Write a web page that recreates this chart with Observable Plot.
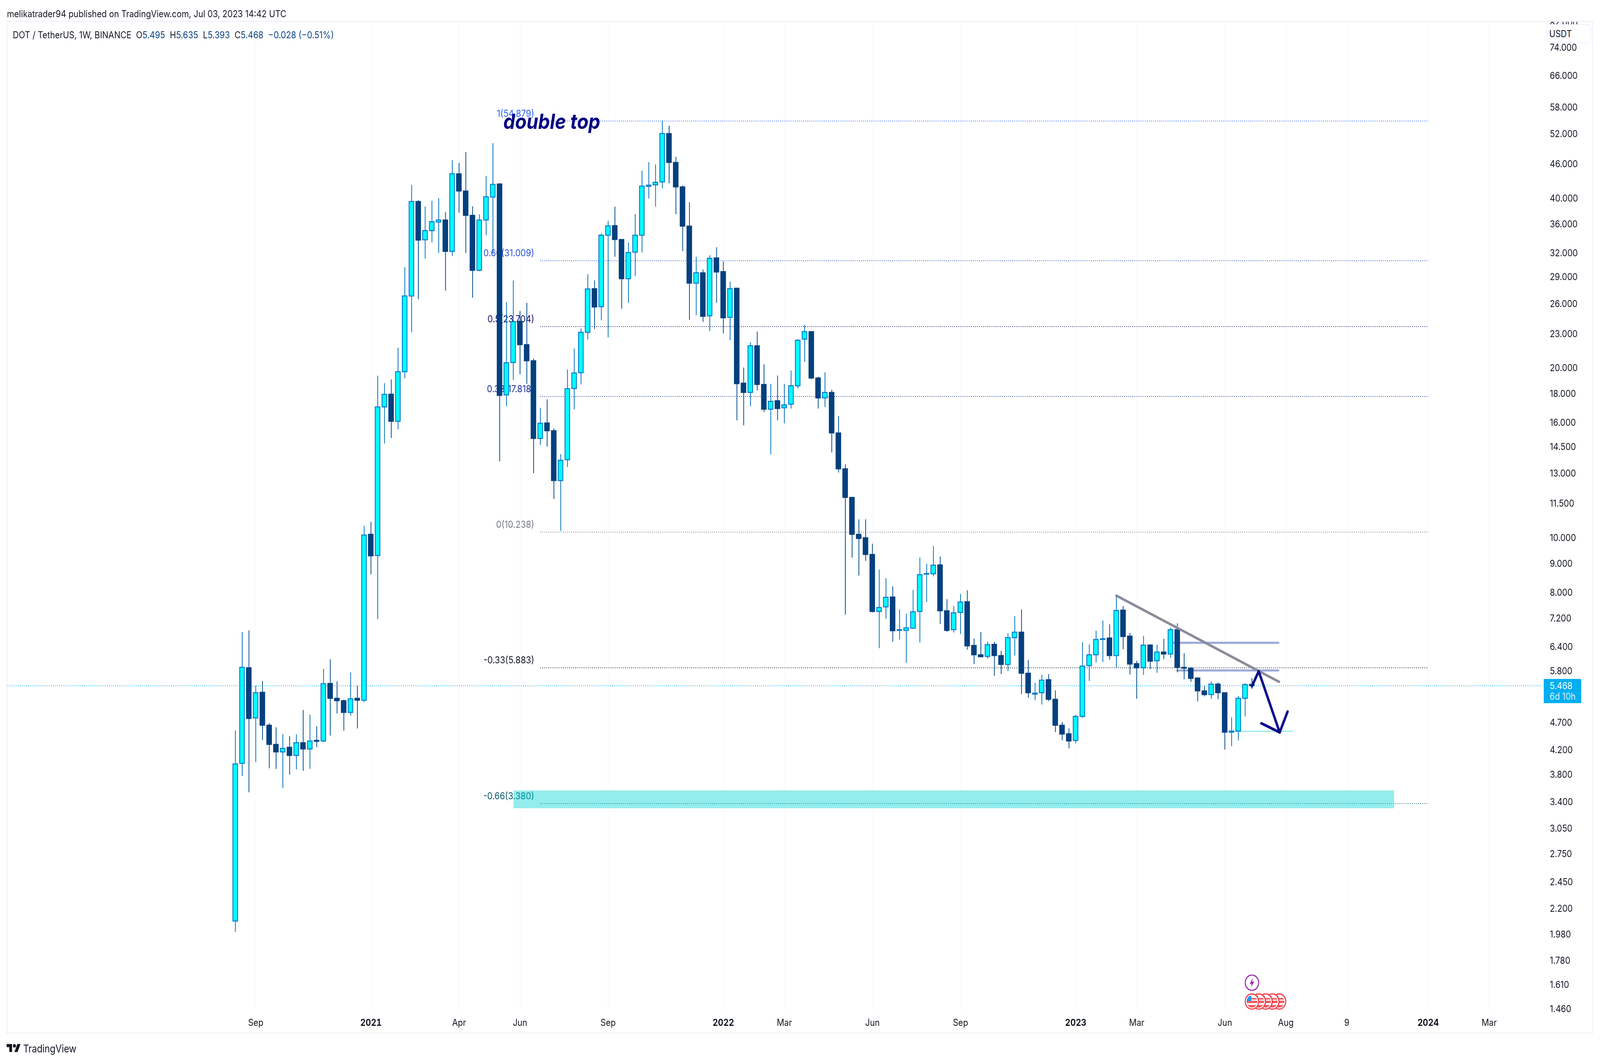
<!DOCTYPE html>
<html><head><meta charset="utf-8">
<script src="https://cdn.jsdelivr.net/npm/d3@7"></script>
<script src="https://cdn.jsdelivr.net/npm/@observablehq/plot@0.6"></script>
<style>
html,body{margin:0;padding:0;background:#fff;overflow:hidden;height:2716px;font-family:Inter,sans-serif;color:#131722}
#page{position:relative;width:4636px;height:2716px;transform-origin:0 0}
#head{height:53px;position:relative}
#head span{position:absolute;left:20px;top:20px;font-size:24px;line-height:32px;white-space:nowrap}
#chart{height:2593px}
#chart svg{display:block}
#frame{position:absolute;left:19px;top:53px;width:4597px;height:2593px;border:3px solid #f0f3fa;box-sizing:border-box;pointer-events:none}
#legend{position:absolute;left:37px;top:74px;font-size:24px;line-height:32px;white-space:pre}
#legend b{font-weight:400;color:#0b4384}
#unit{position:absolute;left:4481px;top:62px;width:129px;height:49px;box-sizing:border-box;border:2px solid #f0f3fa;border-radius:8px;background:#fff;font-size:24px;line-height:45px;padding-left:6px}
#last{position:absolute;left:4473px;top:1738px;width:109px;height:62px;background:#03aef0;border-radius:0 4px 4px 0;color:#fff;font-size:24px;line-height:27px;padding:4px 0 0 17px;box-sizing:border-box;white-space:nowrap}
#last i{font-style:normal;color:#d4f1fd}
#foot{position:absolute;left:19px;top:2668px;height:32px;display:flex;align-items:center}
#foot span{font-size:26.5px;margin-left:7px;color:#131722;letter-spacing:-.2px}
</style></head><body><div id="page">
<div id="head"><span>melikatrader94 published on TradingView.com, Jul 03, 2023 14:42 UTC</span></div>
<div id="chart"></div>
<div id="frame"></div>
<div id="legend">DOT / TetherUS, 1W, BINANCE  O<b>5.495</b>  H<b>5.635</b>  L<b>5.393</b>  C<b>5.468</b>  <b>−0.028 (−0.51%)</b></div>
<div id="unit">USDT</div>
<div id="last">5.468<br><i>6d 10h</i></div>
<div id="foot"><svg width="41" height="32" viewBox="0 0 36 28"><path fill="#131722" d="M14 22H7V11H0V4h14v18zM28 22h-8l7.5-18h8L28 22z"/><circle fill="#131722" cx="20" cy="8" r="4"/></svg><span>TradingView</span></div>
</div>
<script>
const firstWeek = "2020-08-17";
const opens = [2.09,3.98,5.88,4.79,5.32,4.65,4.30,4.17,4.25,4.11,4.33,4.22,4.37,4.36,5.515,5.19,5.14,4.90,5.19,5.15,10.14,9.30,17.06,17.97,16.09,19.70,26.84,39.47,33.76,35.05,36.3,36.6,32.2,44.2,41.2,37.3,29.8,36.6,40.2,42.4,17.92,20.45,24.2,22.0,20.6,15.0,15.98,15.48,12.63,13.75,18.39,19.62,23.14,27.65,25.69,34.4,35.77,33.8,28.8,32.1,34.4,42.0,42.25,42.75,52.1,46.3,41.9,35.7,28.28,29.5,24.75,31.35,29.65,24.6,27.7,18.8,18.1,21.9,18.7,16.9,17.5,17.0,17.25,18.6,22.5,23.2,19.2,17.7,18.1,15.34,13.25,11.79,10.14,10.0,9.34,7.40,7.54,7.85,6.85,6.85,6.91,7.40,8.62,8.63,8.95,7.42,6.87,7.37,7.70,6.44,6.2,6.16,6.47,6.18,5.96,6.65,6.8,5.75,5.28,5.31,5.60,5.17,4.65,4.49,4.37,4.82,5.93,6.2,6.6,6.64,6.18,7.44,6.69,5.98,5.88,6.45,6.05,6.27,6.22,6.87,5.89,5.87,5.64,5.35,5.27,5.5,5.31,4.52,4.54,5.19,5.495];
const highs = [4.55,6.80,6.85,5.465,5.57,4.69,4.61,4.485,4.45,4.48,4.95,4.855,4.63,5.85,6.085,5.56,5.16,5.77,5.465,10.50,10.67,19.38,18.80,19.09,21.73,30.18,42.25,39.70,38.68,39.6,40.0,37.8,46.73,46.2,48.3,38.7,37.45,43.83,50.1,42.55,26.19,28.6,25.25,26.1,20.77,17.0,17.6,15.62,14.07,19.88,21.65,23.5,29.33,28.6,34.65,36.46,38.65,33.85,33.37,37.5,44.8,46.35,45.93,54.88,53.8,47.4,42.15,39.35,31.5,29.9,31.7,32.75,30.9,28.45,27.75,20.04,22.2,23.2,20.3,18.75,19.4,18.75,19.8,22.5,23.85,23.25,19.3,19.65,18.3,16.44,13.5,11.8,10.78,10.78,9.76,8.78,8.48,8.2,7.46,7.33,8.08,9.22,8.99,9.67,9.26,7.78,7.57,7.95,8.07,6.63,6.8,6.54,6.54,6.3,6.77,7.26,7.46,6.07,5.53,5.71,5.73,5.36,4.71,4.59,4.85,6.53,6.47,6.84,7.13,7.02,7.90,7.57,6.78,6.05,6.7,6.48,6.46,6.62,6.93,7.05,6.24,5.90,5.64,5.46,5.56,5.54,5.32,4.80,5.24,5.52,5.635];
const lows = [2.00,3.78,3.535,4.00,4.38,3.90,3.89,3.60,3.80,3.88,3.86,3.89,4.25,4.34,4.46,4.88,4.55,4.83,4.59,5.11,8.61,7.17,14.69,15.03,15.57,19.17,23.14,26.49,31.27,33.4,32.0,27.43,31.6,37.7,32.0,26.65,29.7,34.38,31.9,13.66,17.1,19.05,19.5,18.75,13.02,14.6,14.5,11.72,10.28,13.35,16.9,18.7,22.47,23.45,24.3,22.67,31.5,25.48,26.1,29.1,32.05,39.95,38.65,41.66,42.5,37.5,32.25,24.35,24.82,24.15,23.25,26.1,23.05,22.4,16.15,15.83,17.1,18.25,16.7,14.05,16.15,15.95,16.95,18.4,20.5,19.1,16.95,17.05,14.17,13.05,7.31,9.22,8.57,9.1,7.37,6.37,7.18,6.54,6.60,6.0,6.91,6.52,7.69,8.54,7.03,6.81,6.79,6.75,6.33,5.97,6.14,6.1,5.69,5.73,5.8,6.18,5.28,5.2,5.15,5.06,5.13,4.52,4.37,4.23,4.32,4.79,5.57,6.01,6.02,6.08,5.88,6.34,5.72,5.18,5.71,5.85,5.76,6.09,6.12,5.77,5.61,5.55,5.13,5.23,5.18,5.17,4.21,4.27,4.37,4.82,5.393];
const closes = [3.97,5.89,4.78,5.31,4.65,4.30,4.17,4.23,4.11,4.33,4.22,4.36,4.355,5.51,5.19,5.14,4.90,5.18,5.15,10.11,9.286,17.06,17.96,16.09,19.70,26.84,39.47,33.72,35.05,36.35,36.6,32.2,44.2,41.2,37.3,29.8,36.6,40.24,42.34,17.88,20.43,24.17,22.0,20.6,15.0,15.96,15.48,12.63,13.72,18.38,19.6,23.14,27.62,25.66,34.4,35.73,33.8,28.8,32.05,34.4,42.04,42.2,42.69,52.11,46.3,41.9,35.7,28.28,29.5,24.7,31.3,29.6,24.55,27.65,18.76,18.1,21.9,18.7,16.9,17.45,16.95,17.2,18.6,22.4,23.2,19.2,17.7,18.1,15.34,13.25,11.79,10.14,9.97,9.34,7.40,7.52,7.84,6.84,6.87,6.92,7.39,8.6,8.64,8.94,7.42,6.85,7.36,7.69,6.43,6.2,6.15,6.46,6.18,5.96,6.65,6.8,5.75,5.31,5.30,5.59,5.17,4.65,4.485,4.36,4.82,5.92,6.20,6.60,6.62,6.18,7.43,6.68,5.97,5.88,6.45,6.04,6.27,6.22,6.87,5.89,5.87,5.63,5.35,5.27,5.5,5.31,4.52,4.54,5.19,5.49,5.468];

const fibLevels = [54.879,31.009,23.704,17.818,10.238,5.883,3.38];
const fibLabels = ["1(54.879)","0.66(31.009)","0.5(23.704)","0.33(17.818)","0(10.238)","-0.33(5.883)","-0.66(3.380)"];
const fibColors = ["#2962ff","#2a52d8","#0c0c70","#1a2e9c","#787b86","#131722","#0a5a70"];
const lastPrice = 5.468;

const priceTicks = [82,74,66,58,52,46,40,36,32,29,26,23,20,18,16,14.5,13,11.5,10,9,8,7.2,6.4,5.8,5.2,4.7,4.2,3.8,3.4,3.05,2.75,2.45,2.2,1.98,1.78,1.61,1.46];
const priceAxisWeek = 193.95;

const monthTickWeeks = [3,33,42,55,81,94,107,133,146,155,164,185];
const monthTickLabels = ["Sep","Apr","Jun","Sep","Mar","Jun","Sep","Mar","Jun","Aug","9","Mar"];
const yearTickWeeks = [20,72,124,176];
const yearTickLabels = ["2021","2022","2023","2024"];

// annotations: [week number, price]
const trendLine = [[130,7.90],[154,5.556]];
const arrowShaft = [[150,5.457],[151,5.80],[154.09,4.52]];
const arrowHead = [[151.4,4.69],[154.09,4.52],[155.26,4.92]];
const resistanceUpper = [[138.4,6.516],[153.9,6.516]];
const resistanceLower = [[139,5.82],[153.9,5.82]];
const targetLine = [[147,4.54],[156,4.54]];
const zone = {w1:41.07,w2:171,p1:3.563,p2:3.313};
const noteText = "double top", noteWeek = 39.54, notePrice = 54.65;
const eventBolt = [[150,1.626]];
const eventFlags = [[154,1.506],[153,1.506],[152,1.506],[151,1.506],[150,1.506]];

// the window may be narrower than the reference: keep the full width by fitting it horizontally
document.getElementById("page").style.transform = `scaleX(${Math.min(1, innerWidth/4636)})`;

const t0 = +new Date(firstWeek + "T00:00:00Z");
const DAY = 864e5;
const week = w => new Date(t0 + w*7*DAY);
const candles = opens.map((o,i)=>({date:week(i),o,h:highs[i],l:lows[i],c:closes[i]}));
const up = candles.filter(d=>d.c>=d.o), down = candles.filter(d=>d.c<d.o);
const HALF = 2.4*DAY;
const fib = fibLevels.map((p,i)=>({p,label:fibLabels[i],color:fibColors[i]}));
const pts = a => a.map(([w,p])=>({x:week(w),y:p}));

const svgUri = s => "data:image/svg+xml," + encodeURIComponent(s);
const boltSvg = svgUri(`<svg xmlns='http://www.w3.org/2000/svg' viewBox='0 0 42 42'><circle cx='21' cy='21' r='19.5' fill='#fff' stroke='#9c27b0' stroke-width='3'/><path fill='#9c27b0' d='M23.5 9 L14.5 24 H20 L18 33 L27.5 18.5 H21.5 Z'/></svg>`);
const flagSvg = svgUri(`<svg xmlns='http://www.w3.org/2000/svg' viewBox='0 0 42 42'><defs><clipPath id='c'><circle cx='21' cy='21' r='15.5'/></clipPath></defs><circle cx='21' cy='21' r='19.5' fill='#fff' stroke='#f23645' stroke-width='3'/><g clip-path='url(#c)'><rect y='12' width='42' height='4' fill='#f0595c'/><rect y='19' width='42' height='6' fill='#f0595c'/><rect y='30' width='42' height='10' fill='#f0595c'/><rect x='5' y='4' width='14' height='16' fill='#2196f3'/></g></svg>`);

const chart = Plot.plot({
  width:4636, height:2593,
  marginTop:0, marginLeft:0, marginRight:156, marginBottom:58,
  style:{maxWidth:"none",overflow:"hidden",fontFamily:"Inter, sans-serif",color:"#131722",background:"transparent"},
  x:{type:"utc",domain:[week(0),week(150)],range:[681.6,3627],axis:null},
  y:{type:"log",domain:[1.4475,82.6],range:[2535,0],axis:null},
  marks:[
    Plot.ruleX([...monthTickWeeks,...yearTickWeeks].map(week),{x:d=>d,y1:1.4475,y2:82.6,stroke:"#f8f9fd",strokeWidth:2}),
    Plot.ruleY(fib,{y:"p",x1:week(45),x2:week(176),stroke:"color",strokeWidth:2,strokeDasharray:"2 4"}),
    Plot.text(fib,{x:()=>week(44.09),y:"p",text:"label",fill:"color",textAnchor:"end",dy:-19,fontSize:24.5,fontFamily:"Inter, sans-serif"}),
    Plot.rect([zone],{x1:d=>week(d.w1),x2:d=>week(d.w2),y1:"p1",y2:"p2",fill:"#00d4d4",fillOpacity:.42}),
    Plot.ruleY([lastPrice],{x1:week(-33.6),x2:week(192.9),stroke:"#06adef",strokeWidth:2,strokeDasharray:"2 4"}),
    Plot.line(pts(resistanceUpper),{x:"x",y:"y",stroke:"#0b2a9c",strokeOpacity:.4,strokeWidth:5.5}),
    Plot.line(pts(resistanceLower),{x:"x",y:"y",stroke:"#0b2a9c",strokeOpacity:.4,strokeWidth:5.5}),
    Plot.line(pts(targetLine),{x:"x",y:"y",stroke:"#94eded",strokeWidth:3}),
    Plot.ruleX(up,{x:"date",y1:"l",y2:"h",stroke:"#0072bc",strokeWidth:2.2}),
    Plot.ruleX(down,{x:"date",y1:"l",y2:"h",stroke:"#024b8c",strokeWidth:2.2}),
    Plot.rect(up,{x1:d=>new Date(+d.date-HALF),x2:d=>new Date(+d.date+HALF),y1:"o",y2:"c",fill:"#00ffff",stroke:"#0078c8",strokeWidth:2.5}),
    Plot.rect(down,{x1:d=>new Date(+d.date-HALF),x2:d=>new Date(+d.date+HALF),y1:"o",y2:"c",fill:"#03407e",stroke:"#03407e",strokeWidth:2.5}),
    Plot.line(pts(trendLine),{x:"x",y:"y",stroke:"#8a8c9a",strokeWidth:6.5,strokeLinecap:"round"}),
    Plot.line(pts(arrowShaft),{x:"x",y:"y",stroke:"#0c0c8c",strokeWidth:7,strokeLinecap:"round",strokeLinejoin:"round",curve:"linear"}),
    Plot.line(pts(arrowHead),{x:"x",y:"y",stroke:"#0c0c8c",strokeWidth:7,strokeLinecap:"round",strokeLinejoin:"round",curve:"linear"}),
    Plot.text([noteText],{x:()=>week(noteWeek),y:()=>notePrice,text:d=>d,fill:"#000080",fontSize:54,fontWeight:700,fontStyle:"italic",textAnchor:"start",fontFamily:"Inter, sans-serif"}),
    Plot.image(pts(eventFlags),{x:"x",y:"y",src:flagSvg,width:42,height:42}),
    Plot.image(pts(eventBolt),{x:"x",y:"y",src:boltSvg,width:42,height:42}),
    Plot.text(priceTicks,{x:()=>week(priceAxisWeek),y:d=>d,text:d=>d3.format(".3f")(d),textAnchor:"start",fontSize:24,fill:"#131722",fontFamily:"Inter, sans-serif"}),
    Plot.axisX({anchor:"bottom",ticks:monthTickWeeks.map(week),tickFormat:d=>monthTickLabels[monthTickWeeks.findIndex(w=>+week(w)===+d)],tickSize:0,tickPadding:20,fontSize:24,fontFamily:"Inter, sans-serif",label:null}),
    Plot.axisX({anchor:"bottom",ticks:yearTickWeeks.map(week),tickFormat:d=>yearTickLabels[yearTickWeeks.findIndex(w=>+week(w)===+d)],tickSize:0,tickPadding:20,fontSize:24,fontWeight:700,fontFamily:"Inter, sans-serif",label:null})
  ]
});
document.getElementById("chart").append(chart);
</script></body></html>
